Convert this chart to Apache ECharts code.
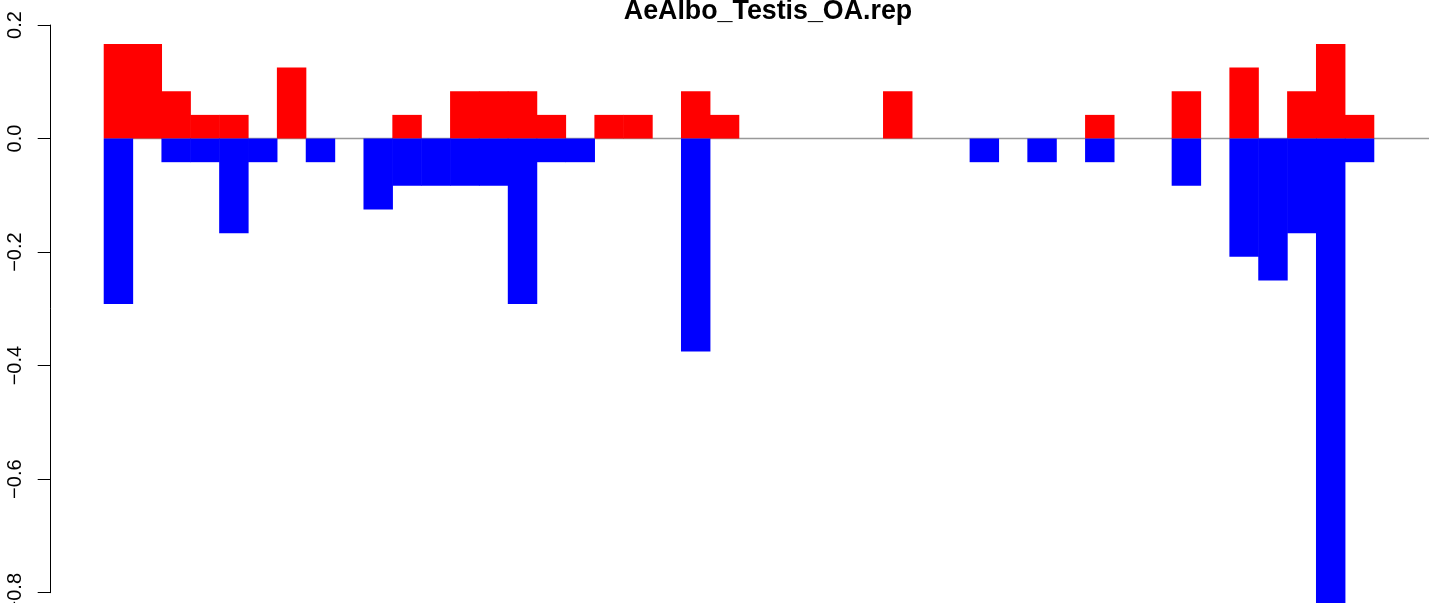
<!DOCTYPE html>
<html>
<head>
<meta charset="utf-8">
<script src="https://cdn.jsdelivr.net/npm/echarts@6/dist/echarts.min.js"></script>
<style>
html,body{margin:0;padding:0;background:#fff;}
#chart{width:1429px;height:603px;}
</style>
</head>
<body>
<div id="chart"></div>
<script>
const chartTitle = 'AeAlbo_Testis_OA.rep';
const categories = ['1','2','3','4','5','6','7','8','9','10','11','12','13','14','15','16','17','18','19','20','21','22','23','24','25','26','27','28','29','30','31','32','33','34','35','36','37','38','39','40','41','42','43','44'];
const upValues = [0.16667,0.16667,0.08333,0.04167,0.04167,0,0.125,0,0,0,0.04167,0,0.08333,0.08333,0.08333,0.04167,0,0.04167,0.04167,0,0.08333,0.04167,0,0,0,0,0,0.08333,0,0,0,0,0,0,0.04167,0,0,0.08333,0,0.125,0,0.08333,0.16667,0.04167];
const downValues = [-0.29167,0,-0.04167,-0.04167,-0.16667,-0.04167,0,-0.04167,0,-0.125,-0.08333,-0.08333,-0.08333,-0.08333,-0.29167,-0.04167,-0.04167,0,0,0,-0.375,0,0,0,0,0,0,0,0,0,-0.04167,0,-0.04167,0,-0.04167,0,0,-0.08333,0,-0.20833,-0.25,-0.16667,-0.83333,-0.04167];
const yTicks = [-0.8,-0.6,-0.4,-0.2,0.0,0.2];
const yTickLabels = ['\u22120.8','\u22120.6','\u22120.4','\u22120.2','0.0','0.2'];
const zeroLineX = [0, 1];
const zeroLineY = [0, 0];

const chart = echarts.init(document.getElementById('chart'), null, {renderer:'canvas'});
const font = "'Liberation Sans', Arial, Helvetica, sans-serif";

function tickLabel(v){
  for (let i=0;i<yTicks.length;i++){ if (Math.abs(yTicks[i]-v)<1e-6) return yTickLabels[i]; }
  return '';
}
const nz = arr => arr.map(v => (v === 0 ? null : v));

const option = {
  backgroundColor:'#ffffff',
  animation:false,
  title:{
    text: chartTitle,
    left: 768,
    textAlign:'center',
    top: -2,
    padding:0,
    textStyle:{fontFamily:font,fontWeight:'bold',fontSize:26.8,color:'#000'}
  },
  grid:[
    {left:104,right:55,top:25,bottom:10.3,containLabel:false,outerBoundsMode:'none'},
    {left:104,right:0,top:25,bottom:10.3,containLabel:false,outerBoundsMode:'none'}
  ],
  xAxis:[
    {type:'category',gridIndex:0,data:categories,show:false,boundaryGap:true},
    {type:'value',gridIndex:1,min:0,max:1,show:false}
  ],
  yAxis:[
    {type:'value',gridIndex:0,min:-0.8,max:0.2,interval:0.2,position:'left',offset:53.3,
     axisLine:{show:true,lineStyle:{color:'#000',width:1}},
     axisTick:{show:true,length:13,lineStyle:{color:'#000',width:1}},
     splitLine:{show:false},
     axisLabel:{show:true,rotate:90,margin:25,color:'#000',fontFamily:font,fontSize:20,formatter:tickLabel}
    },
    {type:'value',gridIndex:1,min:-0.8,max:0.2,show:false}
  ],
  series:[
    {type:'line',xAxisIndex:1,yAxisIndex:1,data:zeroLineX.map((x,i)=>[x,zeroLineY[i]]),
     symbol:'none',lineStyle:{color:'#999999',width:1.5},z:1,silent:true},
    {type:'bar',xAxisIndex:0,yAxisIndex:0,data:nz(upValues),barGap:'-100%',barWidth:'102%',
     itemStyle:{color:'#ff0000'},clip:false,z:2,silent:true},
    {type:'bar',xAxisIndex:0,yAxisIndex:0,data:nz(downValues),barGap:'-100%',barWidth:'102%',
     itemStyle:{color:'#0000ff'},clip:false,z:2,silent:true}
  ]
};
chart.setOption(option);
</script>
</body>
</html>
